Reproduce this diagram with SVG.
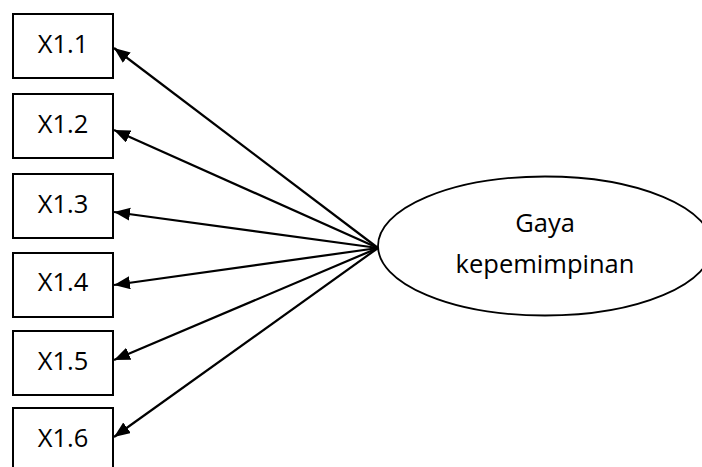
<svg xmlns="http://www.w3.org/2000/svg" width="702" height="467" viewBox="0 0 702 467">
  <style>
    .box { fill: #ffffff; stroke: #000000; stroke-width: 2; }
    .lbl { font-family: "Open Sans", "Liberation Sans", sans-serif; font-size: 25.5px; fill: #000000; text-anchor: middle; }
    .conn { stroke: #000000; stroke-width: 2.2; fill: none; marker-end: url(#arrow); }
  </style>
  <defs>
    <marker id="arrow" markerUnits="userSpaceOnUse" markerWidth="17" markerHeight="14" refX="16" refY="6.5" orient="auto">
      <path d="M0,0 L16,6.5 L0,13 z" fill="#000000"/>
    </marker>
  </defs>
  <rect width="702" height="467" fill="#ffffff"/>
  <g id="connectors">
    <line class="conn" x1="378" y1="248" x2="114" y2="48"/>
    <line class="conn" x1="378" y1="248" x2="114" y2="130"/>
    <line class="conn" x1="378" y1="248" x2="114" y2="212"/>
    <line class="conn" x1="378" y1="248" x2="114" y2="285"/>
    <line class="conn" x1="378" y1="248" x2="114" y2="360"/>
    <line class="conn" x1="378" y1="248" x2="114" y2="437"/>
  </g>
  <g id="x11">
    <rect class="box" x="13" y="14" width="100" height="64"/>
    <text class="lbl" x="63" y="53">X1.1</text>
  </g>
  <g id="x12">
    <rect class="box" x="13" y="94" width="100" height="64"/>
    <text class="lbl" x="63" y="133">X1.2</text>
  </g>
  <g id="x13">
    <rect class="box" x="13" y="174" width="100" height="64"/>
    <text class="lbl" x="63" y="213">X1.3</text>
  </g>
  <g id="x14">
    <rect class="box" x="13" y="253" width="100" height="64"/>
    <text class="lbl" x="63" y="291">X1.4</text>
  </g>
  <g id="x15">
    <rect class="box" x="13" y="331" width="100" height="64"/>
    <text class="lbl" x="63" y="370">X1.5</text>
  </g>
  <g id="x16">
    <rect class="box" x="13" y="408" width="100" height="64"/>
    <text class="lbl" x="63" y="447">X1.6</text>
  </g>
  <g id="gaya">
    <ellipse cx="545" cy="246" rx="167" ry="69.5" fill="#ffffff" stroke="#000000" stroke-width="1.8"/>
    <text class="lbl" x="545" y="232">Gaya</text>
    <text class="lbl" x="545" y="273">kepemimpinan</text>
  </g>
</svg>
